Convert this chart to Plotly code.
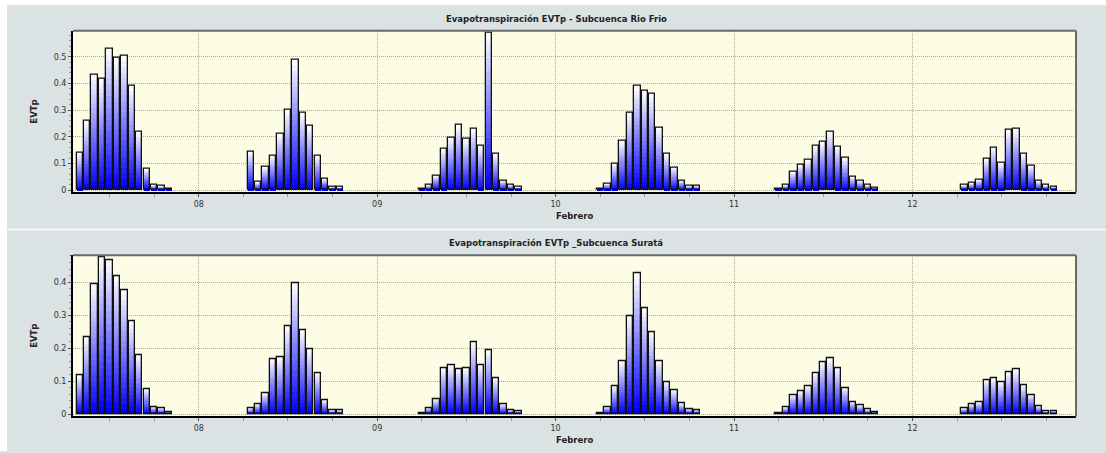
import pandas as pd
import plotly.graph_objects as go
from plotly.subplots import make_subplots

# ---------------- data ----------------
days = ["2013-02-07", "2013-02-08", "2013-02-09", "2013-02-10", "2013-02-11", "2013-02-12"]
start_hours = [8, 7, 6, 6, 6, 7]

rio_frio = [
    [0.140, 0.259, 0.433, 0.416, 0.530, 0.495, 0.504, 0.390, 0.218, 0.080, 0.019, 0.015, 0.005],
    [0.143, 0.030, 0.088, 0.128, 0.209, 0.300, 0.488, 0.289, 0.240, 0.128, 0.043, 0.013, 0.011],
    [0.003, 0.020, 0.054, 0.153, 0.196, 0.244, 0.191, 0.229, 0.164, 0.589, 0.134, 0.036, 0.020, 0.011],
    [0.003, 0.024, 0.098, 0.185, 0.289, 0.390, 0.371, 0.360, 0.235, 0.134, 0.085, 0.036, 0.016, 0.016],
    [0.003, 0.019, 0.068, 0.094, 0.113, 0.165, 0.181, 0.218, 0.163, 0.120, 0.049, 0.035, 0.019, 0.010],
    [0.019, 0.026, 0.039, 0.116, 0.160, 0.101, 0.225, 0.229, 0.134, 0.091, 0.033, 0.019, 0.013],
]

surata = [
    [0.117, 0.232, 0.394, 0.475, 0.467, 0.419, 0.377, 0.281, 0.180, 0.076, 0.022, 0.018, 0.006],
    [0.018, 0.030, 0.064, 0.168, 0.172, 0.267, 0.396, 0.256, 0.196, 0.124, 0.041, 0.011, 0.011],
    [0.003, 0.019, 0.046, 0.140, 0.148, 0.137, 0.139, 0.219, 0.150, 0.193, 0.109, 0.030, 0.012, 0.009],
    [0.003, 0.022, 0.085, 0.162, 0.298, 0.427, 0.321, 0.250, 0.162, 0.098, 0.073, 0.032, 0.015, 0.012],
    [0.003, 0.020, 0.058, 0.069, 0.085, 0.124, 0.159, 0.169, 0.139, 0.080, 0.037, 0.026, 0.014, 0.006],
    [0.017, 0.030, 0.035, 0.104, 0.108, 0.098, 0.127, 0.135, 0.088, 0.059, 0.024, 0.008, 0.008],
]

titles = ["Evapotranspiración EVTp - Subcuenca Rio Frio",
          "Evapotranspiración EVTp _Subcuenca Suratá"]
x_title = "Febrero"
y_title = "EVTp"


def to_xy(series):
    xs, ys = [], []
    for d, h0, vals in zip(days, start_hours, series):
        base = pd.Timestamp(d)
        for i, v in enumerate(vals):
            xs.append(base + pd.Timedelta(hours=h0 + i))
            ys.append(v)
    return xs, ys


W, H = 1106, 453
fig = make_subplots(rows=2, cols=1)

NLAY = 24
BAR_W = 3.1e6
top_c = (250, 250, 255)
bot_c = (0, 0, 255)

for row, series in enumerate([rio_frio, surata], start=1):
    xs, ys = to_xy(series)
    for j in range(NLAY):
        t = j / (NLAY - 1)
        col = "rgb(%d,%d,%d)" % tuple(round(a * (1 - t) + b * t) for a, b in zip(top_c, bot_c))
        frac = (NLAY - j) / NLAY
        fig.add_trace(go.Bar(x=xs, y=[v * frac for v in ys], width=BAR_W,
                             marker=dict(color=col, line=dict(width=0)),
                             showlegend=False, hoverinfo="skip"), row=row, col=1)
    fig.add_trace(go.Bar(x=xs, y=ys, width=BAR_W,
                         marker=dict(color="rgba(0,0,0,0)", line=dict(color="#111111", width=1.3)),
                         showlegend=False), row=row, col=1)

x0p, x1p = 73 / W, 1076 / W
dom1 = [1 - 193.3 / H, 1 - 31 / H]
dom2 = [1 - 418.3 / H, 1 - 256.3 / H]

tickfont = dict(family="DejaVu Sans", size=8, color="#333333")
xcommon = dict(
    type="date", range=["2013-02-07 07:05", "2013-02-12 22:00"],
    tickmode="linear", tick0="2013-02-08", dtick=86400000, tickformat="%d",
    ticks="outside", ticklen=3, tickcolor="#555555", tickwidth=1,
    minor=dict(dtick=21600000, tick0="2013-02-08", ticks="outside", ticklen=3,
               tickcolor="#999999", showgrid=False),
    showgrid=True, gridcolor="#a8a8a8", griddash="1px,1px", gridwidth=1,
    showline=True, linecolor="#000000", linewidth=2, mirror=False,
    zeroline=False, tickfont=tickfont,
)
ycommon = dict(
    tickmode="linear", tick0=0, dtick=0.1,
    ticks="outside", ticklen=3, tickcolor="#555555",
    minor=dict(dtick=0.02, ticks="outside", ticklen=2, tickcolor="#999999", showgrid=False),
    showgrid=True, gridcolor="#a8a8a8", griddash="1px,1px", gridwidth=1,
    showline=True, linecolor="#000000", linewidth=2, mirror=False,
    zeroline=False, tickfont=tickfont,
)
fig.update_xaxes(**xcommon)
fig.update_layout(
    xaxis=dict(domain=[x0p, x1p], anchor="y"),
    xaxis2=dict(domain=[x0p, x1p], anchor="y2"),
)
fig.update_yaxes(**ycommon)
fig.update_layout(
    yaxis=dict(domain=dom1, range=[-0.009, 0.597]),
    yaxis2=dict(domain=dom2, range=[-0.007, 0.482]),
)

shapes = [
    dict(type="rect", xref="paper", yref="paper", x0=0, x1=7 / W, y0=0, y1=1,
         fillcolor="white", line=dict(width=0), layer="below"),
    dict(type="rect", xref="paper", yref="paper", x0=0, x1=1, y0=1 - 5 / H, y1=1,
         fillcolor="white", line=dict(width=0), layer="below"),
    dict(type="line", xref="paper", yref="paper", x0=7 / W, x1=1, y0=1 - 230.5 / H, y1=1 - 230.5 / H,
         line=dict(color="white", width=1.5), layer="below"),
]
for xa, ya in [("x", "y"), ("x2", "y2")]:
    shapes.append(dict(type="line", xref=xa + " domain", yref=ya + " domain", x0=0, x1=1, y0=1, y1=1,
                       line=dict(color="#6a6a6a", width=2)))
    shapes.append(dict(type="line", xref=xa + " domain", yref=ya + " domain", x0=1, x1=1, y0=0, y1=1,
                       line=dict(color="#6a6a6a", width=2)))

lab_font = dict(family="DejaVu Sans", size=8.5, color="#222222")
annotations = []
for title, tcy, xcy, dom in [(titles[0], 19.3, 216.7, dom1), (titles[1], 244.5, 441.7, dom2)]:
    annotations.append(dict(text="<b>%s</b>" % title, x=556 / W, y=1 - tcy / H, xref="paper", yref="paper",
                            showarrow=False, xanchor="center", yanchor="middle", font=lab_font))
    annotations.append(dict(text="<b>%s</b>" % x_title, x=574.5 / W, y=1 - xcy / H, xref="paper", yref="paper",
                            showarrow=False, xanchor="center", yanchor="middle", font=lab_font))
    annotations.append(dict(text="<b>%s</b>" % y_title, x=34 / W, y=(dom[0] + dom[1]) / 2, xref="paper",
                            yref="paper", showarrow=False, textangle=-90, xanchor="center", yanchor="middle",
                            font=lab_font))

fig.update_layout(
    width=W, height=H, margin=dict(l=0, r=0, t=0, b=0),
    paper_bgcolor="#dae2e4", plot_bgcolor="#fdfde6",
    barmode="overlay", bargap=0, showlegend=False,
    shapes=shapes, annotations=annotations,
)

fig.write_html("out.html", config={"displayModeBar": False},
               post_script=("document.body.style.margin='0px';"
                            "document.body.style.overflow='hidden';"
                            "document.body.style.background='#dae2e4';"
                            "document.documentElement.style.background='#dae2e4';"))
